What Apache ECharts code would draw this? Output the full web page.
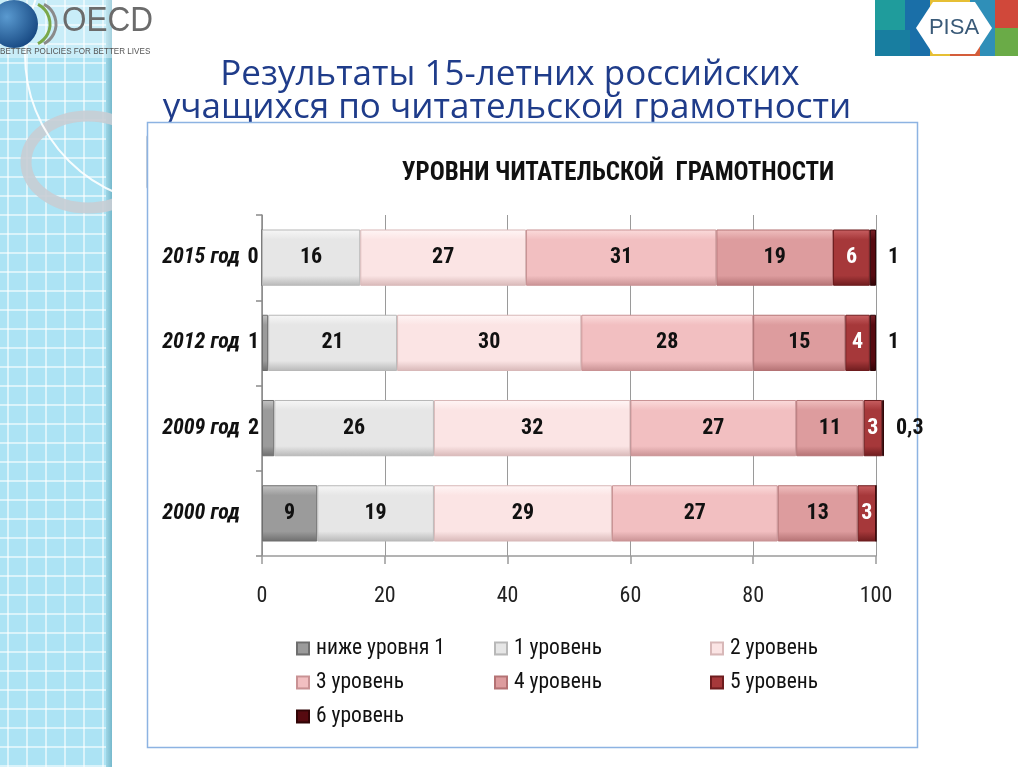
<!DOCTYPE html>
<html>
<head>
<meta charset="utf-8">
<script src="https://cdn.jsdelivr.net/npm/echarts@6/dist/echarts.min.js"></script>
<style>
  html, body { margin: 0; padding: 0; background: #fff; }
  #main { width: 1024px; height: 767px; }
</style>
</head>
<body>
<div id="main"></div>
<script>
// категории (сверху вниз)
var categories = ['2015 год', '2012 год', '2009 год', '2000 год'];
var levelNames = ['ниже уровня 1', '1 уровень', '2 уровень', '3 уровень', '4 уровень', '5 уровень', '6 уровень'];
// значения, %
var below1 = [0, 1, 2, 9];
var level1 = [16, 21, 26, 19];
var level2 = [27, 30, 32, 29];
var level3 = [31, 28, 27, 27];
var level4 = [19, 15, 11, 13];
var level5 = [6, 4, 3, 3];
var level6 = [1, 1, 0.3, 0];
var xTicks = [0, 20, 40, 60, 80, 100];

var levelData = [below1, level1, level2, level3, level4, level5, level6];
// цвета: светлый, основной, тёмный
var levelColors = [
    ['#c4c4c4', '#9b9b9b', '#6e6e6e'],
    ['#f7f7f7', '#e6e6e6', '#b8b8b8'],
    ['#fff6f6', '#fbe4e4', '#d8b8b8'],
    ['#fbdcdc', '#f2bfc1', '#c99294'],
    ['#f0c0c0', '#dd9c9e', '#b47274'],
    ['#c86062', '#a6383a', '#6e1c1e'],
    ['#7a2228', '#560a10', '#300406']
];
var numFont = "'Roboto Condensed', Roboto, sans-serif";

var chart = echarts.init(document.getElementById('main'));

function grad(c) {
    return new echarts.graphic.LinearGradient(0, 0, 0, 1, [
        {offset: 0, color: c[0]},
        {offset: 0.18, color: c[1]},
        {offset: 0.82, color: c[1]},
        {offset: 1, color: c[2]}
    ]);
}

function fmt(p) {
    // у 6 уровня нулевая доля не подписана
    if (p.value === 0 && p.seriesIndex === 6) return '';
    return String(p.value).replace('.', ',');
}

var series = [];
for (var s = 0; s < levelData.length; s++) {
    var data = [];
    for (var i = 0; i < levelData[s].length; i++) {
        var item = {value: levelData[s][i]};
        // у 2000 года "ниже уровня 1" подпись внутри
        if (s === 0 && levelData[s][i] >= 5) {
            item.label = {position: 'inside', distance: 0};
        }
        data.push(item);
    }
    var lbl = {
        show: true,
        position: 'inside',
        formatter: fmt,
        fontFamily: numFont,
        fontWeight: 'bold',
        fontSize: 22,
        color: s >= 5 ? '#fff' : '#111'
    };
    if (s === 0) { lbl.position = 'left'; lbl.distance = 3; }
    if (s === 6) { lbl.position = 'right'; lbl.distance = 12; lbl.color = '#111'; }
    series.push({
        name: levelNames[s],
        type: 'bar',
        stack: 'total',
        barWidth: '66%',
        clip: false,
        data: data,
        itemStyle: {
            color: grad(levelColors[s]),
            borderColor: levelColors[s][2],
            borderWidth: 1
        },
        label: lbl
    });
}

// декор слайда
var deco = [];
deco.push({type: 'rect', shape: {x: 0, y: 0, width: 110, height: 767}, style: {fill: '#ace3f4'}, z: -10});
for (var gx = 8; gx < 110; gx += 19) {
    deco.push({type: 'line', shape: {x1: gx, y1: 0, x2: gx, y2: 767}, style: {stroke: 'rgba(255,255,255,0.75)', lineWidth: 1.5}, z: -9});
}
for (var gy = 6; gy < 767; gy += 19) {
    deco.push({type: 'line', shape: {x1: 0, y1: gy, x2: 110, y2: gy}, style: {stroke: 'rgba(255,255,255,0.75)', lineWidth: 1.5}, z: -9});
}
deco.push({type: 'rect', shape: {x: 106, y: 0, width: 6, height: 767},
    style: {fill: new echarts.graphic.LinearGradient(0, 0, 1, 0, [{offset: 0, color: '#9fd6e6'}, {offset: 1, color: '#76b9cc'}])}, z: -8});
// кольца
deco.push({type: 'ellipse', shape: {cx: 88, cy: 162, rx: 62, ry: 46}, style: {fill: 'none', stroke: 'rgba(200,205,212,0.9)', lineWidth: 11}, z: -7});
deco.push({type: 'circle', shape: {cx: 175, cy: 55, r: 150}, style: {fill: 'none', stroke: 'rgba(255,255,255,0.9)', lineWidth: 2}, z: -7});
deco.push({type: 'rect', shape: {x: 112, y: 0, width: 34, height: 767}, style: {fill: '#fff'}, z: -6});
deco.push({type: 'rect', shape: {x: 146, y: 0, width: 700, height: 58}, style: {fill: '#fff'}, z: -6});
deco.push({type: 'rect', shape: {x: 0, y: 0, width: 112, height: 58}, style: {fill: 'rgba(255,255,255,0.35)'}, z: -6});
// логотип OECD
deco.push({type: 'circle', shape: {cx: 14, cy: 24, r: 24},
    style: {fill: new echarts.graphic.RadialGradient(0.35, 0.35, 0.8, [{offset: 0, color: '#5a9ad0'}, {offset: 1, color: '#0e3e78'}])}, z: -5});
deco.push({type: 'arc', shape: {cx: 28, cy: 24, r: 22, startAngle: -1.1, endAngle: 1.1}, style: {fill: 'none', stroke: '#7aa84a', lineWidth: 3}, z: -5});
deco.push({type: 'arc', shape: {cx: 34, cy: 24, r: 22, startAngle: -1.1, endAngle: 1.1}, style: {fill: 'none', stroke: '#8a8a8a', lineWidth: 3}, z: -5});
deco.push({type: 'text', x: 62, y: 4, style: {text: 'OECD', fontSize: 35, fontFamily: 'Liberation Sans', fill: '#6b6b6b'}, scaleX: 0.9, z: -5});
deco.push({type: 'text', x: 0, y: 47, style: {text: 'BETTER POLICIES FOR BETTER LIVES', fontSize: 9, fontFamily: 'Liberation Sans', fill: '#555'}, scaleX: 0.9, z: -5});
// логотип PISA
var pisaBlocks = [
    [875, 0, 30, 56, '#1f9c9c'], [905, 0, 25, 56, '#1a6fa8'], [930, 0, 40, 56, '#e6bf34'],
    [970, 0, 25, 56, '#2f8fb8'], [995, 0, 23, 28, '#d0483a'], [995, 28, 23, 28, '#6aab47'],
    [875, 30, 35, 26, '#187ea0'], [950, 36, 30, 20, '#d45d3a']
];
for (var b = 0; b < pisaBlocks.length; b++) {
    var pb = pisaBlocks[b];
    deco.push({type: 'rect', shape: {x: pb[0], y: pb[1], width: pb[2], height: pb[3]}, style: {fill: pb[4]}, z: -5});
}
deco.push({type: 'polygon', shape: {points: [[933, 2], [975, 2], [992, 28], [975, 54], [933, 54], [916, 28]]}, style: {fill: '#fff'}, z: -4});
deco.push({type: 'text', x: 954, y: 28, style: {text: 'PISA', fontSize: 22, fontFamily: 'Liberation Sans', fill: '#3a5a78', align: 'center', verticalAlign: 'middle'}, z: -4});
// заголовок слайда
deco.push({type: 'text', x: 510, y: 75, style: {text: 'Результаты 15-летних российских', fontSize: 35, fontFamily: 'Open Sans', fill: '#1f3c8a', align: 'center', verticalAlign: 'middle'}, z: -3});
deco.push({type: 'text', x: 507, y: 108, style: {text: 'учащихся по читательской грамотности', fontSize: 35, fontFamily: 'Open Sans', fill: '#1f3c8a', align: 'center', verticalAlign: 'middle'}, z: -3});
// рамка диаграммы
deco.push({type: 'rect', shape: {x: 147.5, y: 122.5, width: 770, height: 625}, style: {fill: '#fff', stroke: '#8db3e2', lineWidth: 1.5}, z: -2});

var option = {
    animation: false,
    backgroundColor: '#fff',
    title: {
        text: 'УРОВНИ ЧИТАТЕЛЬСКОЙ  ГРАМОТНОСТИ',
        left: 618,
        textAlign: 'center',
        top: 161,
        padding: 0,
        textStyle: {fontFamily: numFont, fontWeight: 'bold', fontSize: 25, color: '#111'}
    },
    graphic: {elements: deco},
    grid: {left: 262, right: 148, top: 215, height: 341, containLabel: false},
    xAxis: {
        type: 'value',
        min: 0,
        max: 100,
        interval: 20,
        axisLine: {show: true, lineStyle: {color: '#9a9a9a', width: 1.5}},
        axisTick: {show: true, length: 8, lineStyle: {color: '#9a9a9a', width: 1.5}},
        splitLine: {show: true, lineStyle: {color: '#9a9a9a', width: 1}},
        axisLabel: {
            margin: 29,
            fontFamily: numFont,
            fontSize: 22,
            color: '#222',
            formatter: function (v) { return xTicks.indexOf(v) >= 0 ? String(v) : ''; }
        }
    },
    yAxis: {
        type: 'category',
        data: categories,
        inverse: true,
        axisLine: {show: true, lineStyle: {color: '#8a8a8a', width: 1.5}},
        axisTick: {show: true, length: 6, lineStyle: {color: '#8a8a8a', width: 1.5}},
        axisLabel: {
            margin: 22,
            fontFamily: numFont,
            fontWeight: 'bold',
            fontStyle: 'italic',
            fontSize: 22,
            color: '#111'
        }
    },
    legend: [
        {orient: 'vertical', left: 296, top: 637, data: [levelNames[0], levelNames[3], levelNames[6]]},
        {orient: 'vertical', left: 494, top: 637, data: [levelNames[1], levelNames[4]]},
        {orient: 'vertical', left: 710, top: 637, data: [levelNames[2], levelNames[5]]}
    ].map(function (l) {
        l.padding = 0;
        l.itemWidth = 12;
        l.itemHeight = 12;
        l.itemGap = 11;
        l.icon = 'rect';
        l.selectedMode = false;
        l.textStyle = {fontFamily: numFont, fontSize: 21.5, color: '#111', lineHeight: 23, padding: [0, 0, 0, 2]};
        return l;
    }),
    series: series
};

chart.setOption(option);
window.onresize = function () { chart.resize(); };
</script>
</body>
</html>
